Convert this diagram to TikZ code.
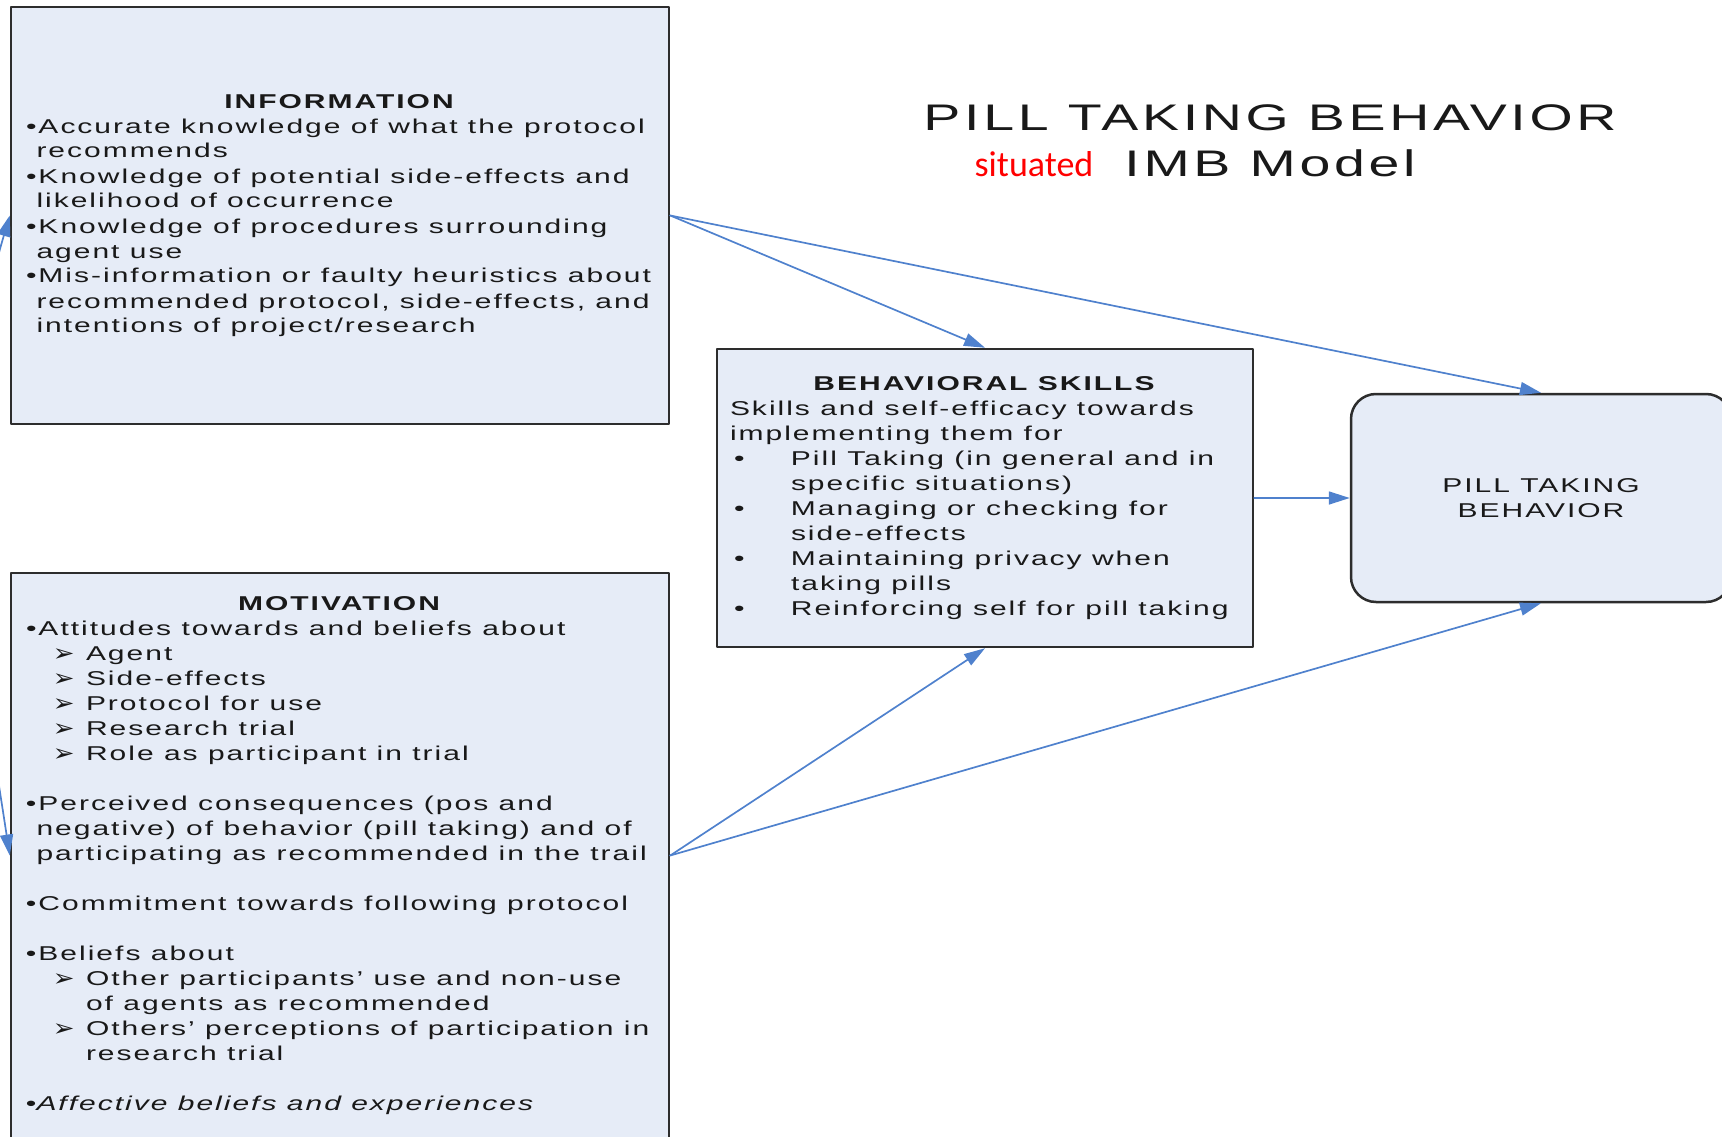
\documentclass[tikz,border=0pt]{standalone}
\usepackage{graphicx}
\usepackage{fontspec}
\setmainfont{Liberation Sans}[FakeStretch=1.5,LetterSpace=10]
\newfontfamily\symfont{DejaVu Sans}
\newfontfamily\calfont{Carlito}
\usetikzlibrary{arrows.meta,positioning}

\definecolor{boxfill}{RGB}{230,236,247}
\definecolor{boxline}{RGB}{45,45,45}
\definecolor{linkblue}{RGB}{79,129,205}
\definecolor{txt}{RGB}{25,25,25}

% bullets and indents
\newcommand{\bul}{\textbullet}
\newcommand{\ind}{\hphantom{\textbullet}}
\newcommand{\sub}{\hspace*{27pt}\makebox[33pt][l]{\symfont\raisebox{-1pt}{\scalebox{1.3}[1.2]{➢}}}}
\newcommand{\subind}{\hspace*{60pt}}
\newcommand{\bl}{\makebox[61pt][l]{\hspace*{4pt}\textbullet}}
\newcommand{\blind}{\hspace*{61pt}}

\begin{document}
\begin{tikzpicture}[line cap=round,line join=round,x=1pt,y=-1pt,
  >={Triangle[length=21pt,width=13pt]},
  box/.style={draw=boxline,fill=boxfill,line width=2.5pt,inner sep=0pt,
    text=txt,font=\fontsize{20}{25}\selectfont},
  link/.style={draw=linkblue,line width=1.7pt,->}]
\useasboundingbox (0,0) rectangle (1722,1137);
\clip (0,0) rectangle (1722,1137);

% the four boxes
\node[box,minimum width=658pt,minimum height=417pt] (info) at (340,215.5) {%
\begin{tabular}{@{}p{628pt}@{}}
\multicolumn{1}{@{}c@{}}{\textbf{INFORMATION}}\\
\bul Accurate knowledge of what the protocol\\
\ind recommends\\
\bul Knowledge of potential side-effects and\\
\ind likelihood of occurrence\\
\bul Knowledge of procedures surrounding\\
\ind agent use\\
\bul Mis-information or faulty heuristics about\\
\ind recommended protocol, side-effects, and\\
\ind intentions of project/research
\end{tabular}};

\node[box,minimum width=658pt,minimum height=565pt] (mot) at (340,855.5) {%
\begin{tabular}{@{}p{628pt}@{}}
\multicolumn{1}{@{}c@{}}{\textbf{MOTIVATION}}\\
\bul Attitudes towards and beliefs about\\
\sub Agent\\
\sub Side-effects\\
\sub Protocol for use\\
\sub Research trial\\
\sub Role as participant in trial\\
\\
\bul Perceived consequences (pos and\\
\ind negative) of behavior (pill taking) and of\\
\ind participating as recommended in the trail\\
\\
\bul Commitment towards following protocol\\
\\
\bul Beliefs about\\
\sub Other participants’ use and non-use\\
\subind of agents as recommended\\
\sub Others’ perceptions of participation in\\
\subind research trial\\
\\
\bul\textit{Affective beliefs and experiences}
\end{tabular}};

\node[box,minimum width=536pt,minimum height=298pt] (bs) at (985,498) {%
\begin{tabular}{@{}p{510pt}@{}}
\multicolumn{1}{@{}c@{}}{\textbf{BEHAVIORAL SKILLS}}\\
Skills and self-efficacy towards\\
implementing them for\\
\bl Pill Taking (in general and in\\
\blind specific situations)\\
\bl Managing or checking for\\
\blind side-effects\\
\bl Maintaining privacy when\\
\blind taking pills\\
\bl Reinforcing self for pill taking
\end{tabular}};

\node[box,rounded corners=25pt,minimum width=380pt,minimum height=208pt,
  align=center] (ptb) at (1541,498) {PILL TAKING\\BEHAVIOR};

% heading
\node[anchor=base,text=txt,font=\fontsize{37}{45}\selectfont] (head) at (1270,131) {PILL TAKING BEHAVIOR};
\node[anchor=base,text=txt,font=\fontsize{37}{45}\selectfont] (model) at (1270,176) {IMB Model};
\node[anchor=base east,xshift=-24pt,text=red,font=\calfont\fontsize{36}{42}\selectfont] (situated) at (model.base west) {situated};

% connectors
\draw[link] (info.east) -- (bs.north);
\draw[link] (info.east) -- (ptb.north);
\draw[link] (bs.east) -- (ptb.west);
\draw[link] (mot.east) -- (bs.south);
\draw[link] (mot.east) -- (ptb.south);
\draw[link,<->] (info.west) .. controls (-61,456) and (-28,608) .. (mot.west);
\end{tikzpicture}
\end{document}
